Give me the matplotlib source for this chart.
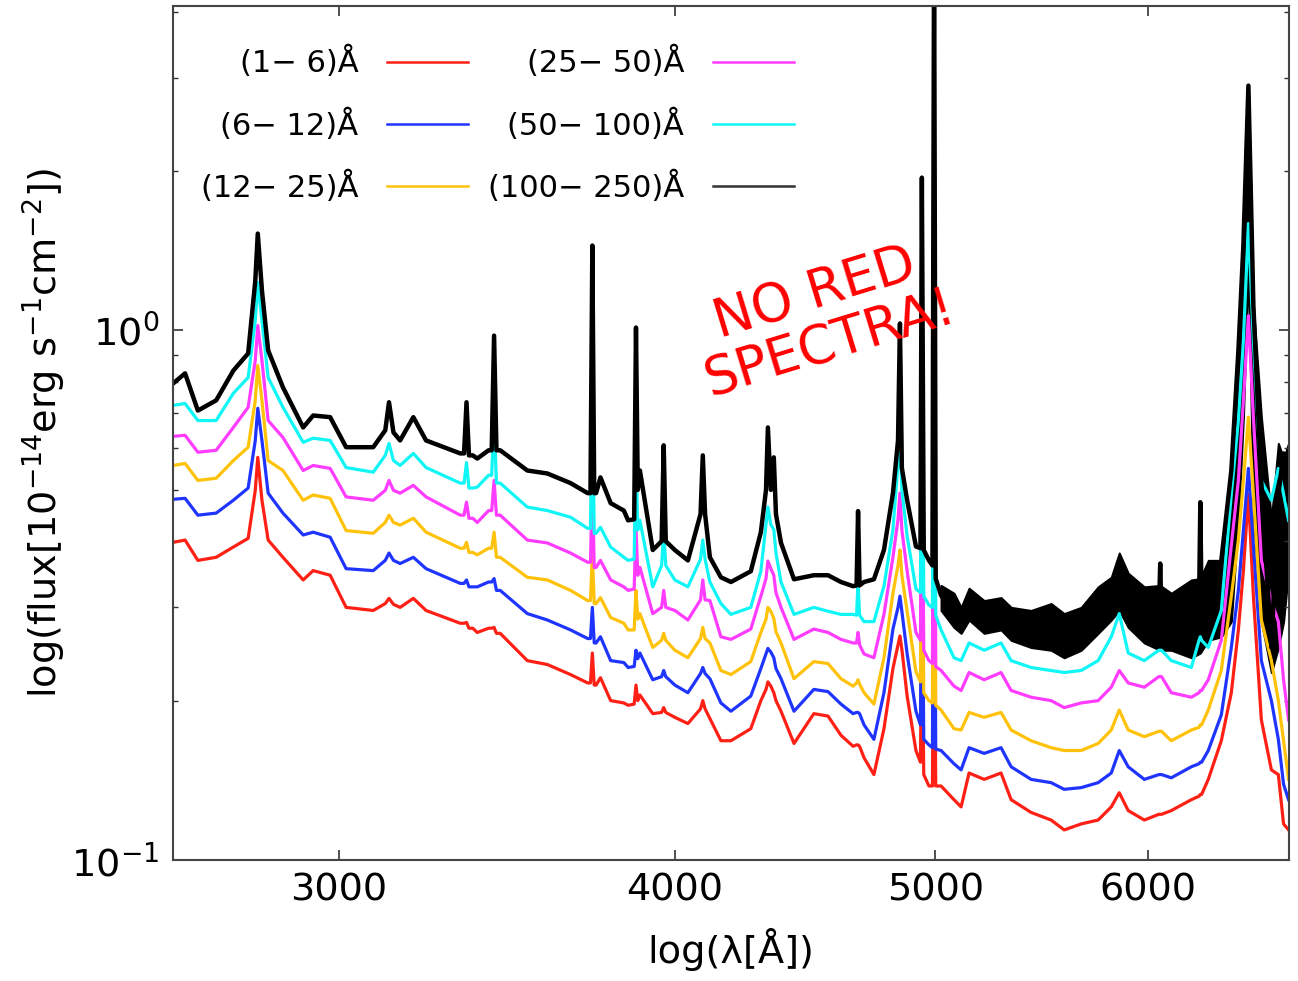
import matplotlib
matplotlib.use("Agg")
import matplotlib.pyplot as plt
from matplotlib.ticker import FixedLocator, FixedFormatter, NullLocator, NullFormatter, LogLocator

# wavelength grid (Angstrom)
wave = [2602, 2629, 2658, 2700, 2740, 2775, 2792, 2798, 2808, 2823,
        2859, 2909, 2934, 2977, 3018, 3089, 3121, 3131, 3143, 3161,
        3197, 3232, 3328, 3339, 3346, 3353, 3364, 3377, 3410, 3419,
        3426, 3433, 3444, 3525, 3586, 3658, 3712, 3721, 3727, 3733,
        3739, 3753, 3786, 3829, 3843, 3863, 3869, 3875, 3882, 3925,
        3955, 3962, 3969, 4000, 4045, 4089, 4097, 4105, 4122, 4161,
        4197, 4269, 4306, 4325, 4332, 4343, 4354, 4362, 4381, 4430,
        4506, 4561, 4612, 4660, 4674, 4680, 4686, 4704, 4744, 4785,
        4822, 4843, 4851, 4859, 4881, 4918, 4937, 4943, 4951, 4973,
        4988, 4995, 5002, 5025, 5081, 5112, 5147, 5214, 5290, 5336,
        5428, 5522, 5584, 5666, 5749, 5814, 5854, 5899, 5981, 6056,
        6063, 6070, 6121, 6227, 6268, 6275, 6282, 6318, 6389, 6444,
        6483, 6511, 6539, 6567, 6612, 6669, 6709, 6739, 6768]

flux_1_6 = [0.398, 0.402, 0.368, 0.373, 0.390, 0.405, 0.499, 0.576, 0.478, 0.402,
            0.373, 0.338, 0.352, 0.345, 0.300, 0.296, 0.305, 0.312, 0.304, 0.300,
            0.312, 0.296, 0.280, 0.280, 0.281, 0.274, 0.274, 0.269, 0.274, 0.274,
            0.275, 0.268, 0.268, 0.238, 0.234, 0.224, 0.216, 0.216, 0.246, 0.214,
            0.214, 0.221, 0.200, 0.198, 0.196, 0.197, 0.214, 0.200, 0.205, 0.189,
            0.190, 0.194, 0.190, 0.186, 0.181, 0.193, 0.200, 0.193, 0.185, 0.168,
            0.168, 0.177, 0.200, 0.210, 0.217, 0.213, 0.207, 0.200, 0.191, 0.166,
            0.189, 0.187, 0.172, 0.164, 0.165, 0.165, 0.164, 0.156, 0.145, 0.177,
            0.230, 0.255, 0.265, 0.250, 0.204, 0.161, 0.153, 0.309, 0.145, 0.138,
            0.138, 0.400, 0.138, 0.138, 0.130, 0.126, 0.146, 0.142, 0.146, 0.130,
            0.123, 0.119, 0.114, 0.117, 0.119, 0.126, 0.134, 0.124, 0.119, 0.122,
            0.122, 0.122, 0.124, 0.130, 0.132, 0.133, 0.133, 0.142, 0.168, 0.207,
            0.272, 0.352, 0.491, 0.315, 0.184, 0.148, 0.145, 0.117, 0.114]

flux_6_12 = [0.480, 0.482, 0.448, 0.452, 0.478, 0.504, 0.620, 0.713, 0.620, 0.493,
             0.452, 0.411, 0.416, 0.407, 0.355, 0.352, 0.368, 0.380, 0.368, 0.363,
             0.373, 0.355, 0.333, 0.333, 0.338, 0.328, 0.328, 0.328, 0.335, 0.335,
             0.340, 0.323, 0.323, 0.292, 0.284, 0.272, 0.262, 0.262, 0.300, 0.257,
             0.257, 0.264, 0.238, 0.236, 0.231, 0.232, 0.249, 0.240, 0.246, 0.219,
             0.222, 0.228, 0.222, 0.214, 0.207, 0.225, 0.231, 0.225, 0.220, 0.198,
             0.191, 0.204, 0.230, 0.245, 0.251, 0.247, 0.241, 0.230, 0.220, 0.191,
             0.210, 0.208, 0.197, 0.189, 0.190, 0.190, 0.189, 0.180, 0.169, 0.207,
             0.273, 0.300, 0.315, 0.295, 0.245, 0.191, 0.180, 0.438, 0.169, 0.165,
             0.163, 0.700, 0.162, 0.161, 0.152, 0.148, 0.163, 0.159, 0.163, 0.150,
             0.142, 0.140, 0.136, 0.137, 0.140, 0.146, 0.161, 0.150, 0.142, 0.145,
             0.145, 0.145, 0.143, 0.150, 0.152, 0.153, 0.153, 0.161, 0.188, 0.252,
             0.323, 0.419, 0.549, 0.393, 0.238, 0.200, 0.169, 0.139, 0.130]

flux_12_25 = [0.556, 0.561, 0.521, 0.526, 0.568, 0.602, 0.738, 0.859, 0.738, 0.568,
              0.544, 0.478, 0.489, 0.482, 0.419, 0.414, 0.434, 0.448, 0.434, 0.429,
              0.442, 0.416, 0.388, 0.388, 0.398, 0.381, 0.381, 0.377, 0.388, 0.388,
              0.416, 0.373, 0.373, 0.342, 0.338, 0.323, 0.309, 0.309, 0.380, 0.305,
              0.305, 0.313, 0.287, 0.280, 0.272, 0.272, 0.323, 0.285, 0.292, 0.252,
              0.260, 0.268, 0.260, 0.249, 0.241, 0.262, 0.275, 0.262, 0.257, 0.228,
              0.224, 0.237, 0.269, 0.285, 0.300, 0.295, 0.286, 0.270, 0.257, 0.220,
              0.237, 0.235, 0.220, 0.213, 0.216, 0.219, 0.215, 0.207, 0.197, 0.241,
              0.319, 0.360, 0.385, 0.345, 0.295, 0.227, 0.217, 0.594, 0.207, 0.200,
              0.198, 1.000, 0.196, 0.192, 0.177, 0.176, 0.190, 0.186, 0.190, 0.176,
              0.168, 0.163, 0.161, 0.161, 0.166, 0.176, 0.192, 0.176, 0.171, 0.175,
              0.175, 0.175, 0.168, 0.176, 0.178, 0.180, 0.180, 0.192, 0.228, 0.315,
              0.402, 0.521, 0.686, 0.491, 0.284, 0.238, 0.200, 0.168, 0.142]

flux_25_50 = [0.631, 0.634, 0.589, 0.594, 0.656, 0.716, 0.878, 1.022, 0.878, 0.676,
              0.628, 0.544, 0.556, 0.549, 0.485, 0.478, 0.499, 0.521, 0.499, 0.493,
              0.510, 0.485, 0.448, 0.448, 0.474, 0.442, 0.442, 0.434, 0.457, 0.457,
              0.521, 0.448, 0.448, 0.402, 0.397, 0.380, 0.365, 0.365, 0.521, 0.357,
              0.357, 0.368, 0.338, 0.328, 0.323, 0.325, 0.425, 0.345, 0.357, 0.292,
              0.300, 0.323, 0.300, 0.296, 0.284, 0.310, 0.338, 0.310, 0.309, 0.264,
              0.261, 0.273, 0.315, 0.340, 0.367, 0.355, 0.345, 0.320, 0.300, 0.261,
              0.273, 0.269, 0.261, 0.257, 0.257, 0.269, 0.255, 0.245, 0.241, 0.291,
              0.373, 0.440, 0.493, 0.420, 0.351, 0.269, 0.260, 0.805, 0.249, 0.238,
              0.235, 1.600, 0.232, 0.228, 0.213, 0.209, 0.226, 0.219, 0.226, 0.209,
              0.203, 0.200, 0.194, 0.198, 0.200, 0.212, 0.228, 0.216, 0.212, 0.222,
              0.222, 0.222, 0.207, 0.203, 0.207, 0.209, 0.209, 0.219, 0.260, 0.393,
              0.521, 0.738, 1.067, 0.686, 0.368, 0.309, 0.282, 0.219, 0.184]

flux_50_100 = [0.722, 0.728, 0.676, 0.676, 0.761, 0.815, 1.044, 1.232, 1.044, 0.815,
               0.716, 0.615, 0.626, 0.620, 0.551, 0.540, 0.581, 0.612, 0.568, 0.556,
               0.586, 0.551, 0.515, 0.515, 0.563, 0.504, 0.504, 0.506, 0.533, 0.533,
               0.682, 0.515, 0.515, 0.464, 0.457, 0.444, 0.423, 0.423, 0.781, 0.414,
               0.414, 0.425, 0.390, 0.373, 0.368, 0.370, 0.602, 0.420, 0.438, 0.328,
               0.360, 0.419, 0.360, 0.338, 0.328, 0.370, 0.402, 0.370, 0.335, 0.305,
               0.291, 0.300, 0.351, 0.430, 0.464, 0.430, 0.421, 0.380, 0.335, 0.291,
               0.300, 0.295, 0.291, 0.291, 0.290, 0.335, 0.290, 0.282, 0.282, 0.329,
               0.421, 0.560, 0.650, 0.500, 0.409, 0.325, 0.320, 1.139, 0.315, 0.303,
               0.300, 3.000, 0.290, 0.272, 0.241, 0.238, 0.257, 0.249, 0.257, 0.238,
               0.231, 0.228, 0.226, 0.228, 0.238, 0.264, 0.292, 0.246, 0.238, 0.249,
               0.249, 0.249, 0.238, 0.231, 0.260, 0.264, 0.260, 0.252, 0.296, 0.491,
               0.676, 0.957, 1.592, 0.953, 0.521, 0.478, 0.549, 0.491, 0.438]

flux_100_250 = [0.794, 0.830, 0.706, 0.738, 0.840, 0.905, 1.240, 1.524, 1.190, 0.917,
                0.781, 0.656, 0.691, 0.686, 0.602, 0.602, 0.648, 0.732, 0.642, 0.620,
                0.686, 0.620, 0.586, 0.586, 0.732, 0.581, 0.581, 0.573, 0.594, 0.594,
                0.978, 0.594, 0.594, 0.544, 0.537, 0.515, 0.493, 0.493, 1.447, 0.493,
                0.493, 0.528, 0.472, 0.457, 0.438, 0.440, 1.013, 0.500, 0.544, 0.385,
                0.400, 0.607, 0.400, 0.385, 0.368, 0.450, 0.581, 0.450, 0.373, 0.342,
                0.335, 0.351, 0.416, 0.500, 0.656, 0.500, 0.576, 0.450, 0.397, 0.339,
                0.345, 0.345, 0.335, 0.329, 0.330, 0.456, 0.330, 0.335, 0.339, 0.385,
                0.493, 0.620, 1.031, 0.550, 0.478, 0.391, 0.388, 1.944, 0.385, 0.368,
                0.360, 5.500, 0.340, 0.316, 0.291, 0.275, 0.313, 0.292, 0.305, 0.280,
                0.272, 0.264, 0.252, 0.268, 0.300, 0.323, 0.368, 0.309, 0.292, 0.290,
                0.363, 0.290, 0.284, 0.300, 0.300, 0.474, 0.300, 0.305, 0.368, 0.544,
                0.913, 1.453, 2.900, 1.115, 0.515, 0.252, 0.491, 0.586, 0.478]

# spread of the noisy (100-250) spectrum on the red side
noise_wave = [5025, 5081, 5112, 5147, 5214, 5290, 5336, 5428, 5522, 5584,
              5666, 5749, 5814, 5854, 5899, 5981, 6063, 6121, 6227, 6275,
              6318, 6389, 6444, 6483, 6511, 6539, 6567, 6612, 6669, 6709,
              6739, 6768]
noise_hi = [0.330, 0.319, 0.300, 0.326, 0.309, 0.313, 0.300, 0.296, 0.305, 0.292,
            0.300, 0.328, 0.342, 0.380, 0.348, 0.328, 0.330, 0.319, 0.338, 0.340,
            0.368, 0.368, 0.526, 0.933, 1.453, 2.900, 1.115, 0.686, 0.440, 0.612,
            0.573, 0.612]
noise_lo = [0.296, 0.275, 0.268, 0.284, 0.268, 0.272, 0.260, 0.252, 0.249, 0.241,
            0.249, 0.268, 0.284, 0.296, 0.275, 0.257, 0.249, 0.249, 0.241, 0.246,
            0.260, 0.264, 0.282, 0.440, 0.686, 1.332, 0.440, 0.282, 0.226, 0.252,
            0.282, 0.352]

labels = ['(1\u2212 6)Å', '(6\u2212 12)Å', '(12\u2212 25)Å',
          '(25\u2212 50)Å', '(50\u2212 100)Å', '(100\u2212 250)Å']
colors = ['#ff2015', '#1f35ff', '#ffc20a', '#ff3cff', '#10f5f5', '#000000']
series = [flux_1_6, flux_6_12, flux_12_25, flux_25_50, flux_50_100, flux_100_250]

plt.rcParams['font.family'] = 'DejaVu Sans'

fig = plt.figure(figsize=(12.98, 9.81), dpi=100)
ax = fig.add_axes([0.1333, 0.1233, 0.8597, 0.8706])

for flux, lab, col in zip(series, labels, colors):
    lw = 3.2 if col == '#000000' else 2.3
    ax.plot(wave, flux, color=col, lw=lw, label=lab)
ax.fill_between(noise_wave, noise_lo, noise_hi, color='black', lw=1.5, edgecolor='black')

ax.set_xscale('log')
ax.set_yscale('log')
ax.set_xlim(2602, 6770)
ax.set_ylim(0.1, 4.1)

ax.xaxis.set_major_locator(FixedLocator([3000, 4000, 5000, 6000]))
ax.xaxis.set_major_formatter(FixedFormatter(['3000', '4000', '5000', '6000']))
ax.xaxis.set_minor_locator(NullLocator())
ax.yaxis.set_major_locator(LogLocator(base=10))
ax.yaxis.set_minor_locator(LogLocator(base=10, subs=range(2, 10)))
ax.yaxis.set_minor_formatter(NullFormatter())

ax.tick_params(which='both', direction='in', top=True, right=True,
               labelsize=27.5, color='#333333')
ax.tick_params(axis='x', which='major', length=7, width=1.2, pad=9)
ax.tick_params(axis='y', which='major', length=7, width=1.2, pad=10)
ax.tick_params(which='minor', length=3.5, width=1.0)
for sp in ax.spines.values():
    sp.set_color('#444444')
    sp.set_linewidth(1.5)

ax.set_xlabel('log(λ[Å])', fontsize=27.5, labelpad=14)
ax.set_ylabel(r'log(flux[10$^{-14}$erg s$^{-1}$cm$^{-2}$])', fontsize=27.5, labelpad=2)

leg = ax.legend(loc='upper left', bbox_to_anchor=(0.025, 0.953), ncol=2, frameon=False,
                markerfirst=False, fontsize=22, handlelength=2.65, handletextpad=0.95,
                columnspacing=0.64, labelspacing=0.98, borderpad=0, borderaxespad=0)
for hl in leg.get_lines():
    hl.set_linewidth(1.8)
leg.get_lines()[-1].set_color('#333333')

ax.text(0.582, 0.634, 'NO RED\nSPECTRA!', transform=ax.transAxes, color='#ff0000',
        fontsize=38, rotation=17, rotation_mode='anchor', ha='center', va='center',
        multialignment='center', linespacing=1.0)

fig.savefig('out.png', dpi=100)
